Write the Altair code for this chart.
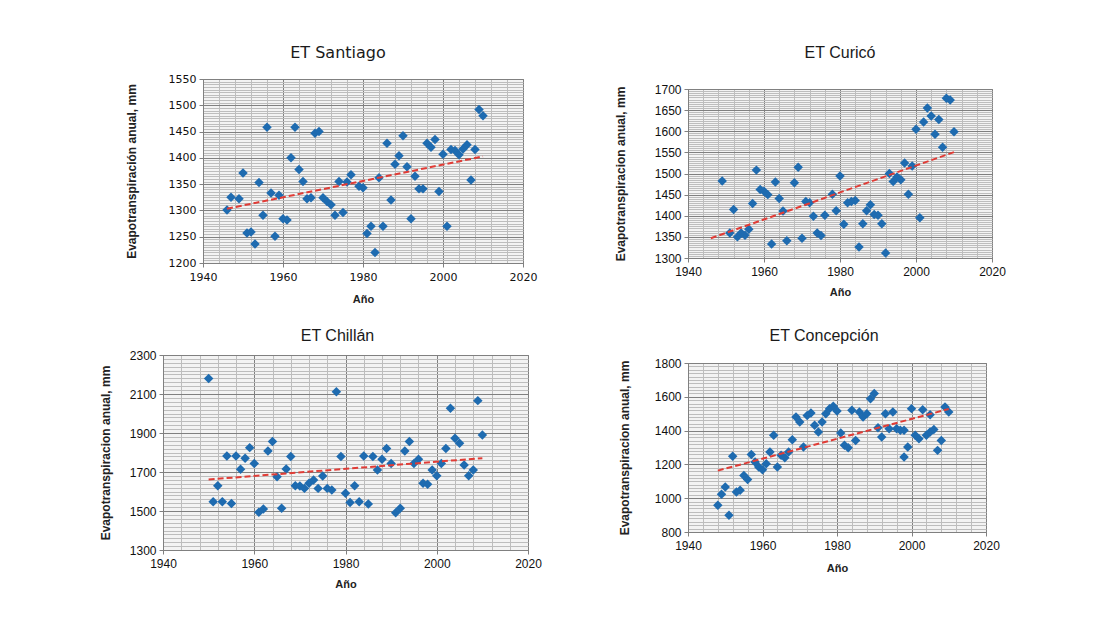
import altair as alt
import pandas as pd

# ---------------- data ----------------
santiago_years = [1946, 1947, 1949, 1950, 1951, 1952, 1953, 1954, 1955, 1956, 1957, 1958, 1959, 1960,
                  1961, 1962, 1963, 1964, 1965, 1966, 1967, 1968, 1969, 1970, 1971, 1972, 1973, 1974,
                  1975, 1976, 1977, 1979, 1980, 1981, 1982, 1983, 1984, 1985, 1986, 1987, 1988, 1989,
                  1990, 1991, 1992, 1993, 1994, 1995, 1996, 1997, 1998, 1999, 2000, 2001, 2002, 2003,
                  2004, 2005, 2006, 2007, 2008, 2009, 2010]
santiago_et = [1301, 1325, 1322, 1371, 1257, 1259, 1236, 1353, 1291, 1458, 1333, 1251, 1329, 1284,
               1282, 1400, 1458, 1378, 1355, 1322, 1324, 1447, 1450, 1324, 1317, 1311, 1291, 1355,
               1296, 1354, 1368, 1346, 1343, 1256, 1270, 1220, 1362, 1270, 1428, 1320, 1388, 1404,
               1442, 1383, 1284, 1365, 1341, 1341, 1428, 1420, 1435, 1336, 1407, 1270, 1416, 1414,
               1406, 1417, 1425, 1358, 1416, 1492, 1480]

curico_years = [1949, 1951, 1952, 1953, 1954, 1955, 1956, 1957, 1958, 1959, 1960, 1961, 1962, 1963,
                1964, 1965, 1966, 1968, 1969, 1970, 1971, 1972, 1973, 1974, 1975, 1976, 1978, 1979,
                1980, 1981, 1982, 1983, 1984, 1985, 1986, 1987, 1988, 1989, 1990, 1991, 1992, 1993,
                1994, 1995, 1996, 1997, 1998, 1999, 2000, 2001, 2002, 2003, 2004, 2005, 2006, 2007,
                2008, 2009, 2010]
curico_et = [1482, 1359, 1415, 1350, 1359, 1354, 1368, 1429, 1508, 1462, 1458, 1450, 1333, 1480,
             1441, 1411, 1341, 1478, 1515, 1347, 1434, 1431, 1399, 1359, 1353, 1401, 1451, 1412,
             1494, 1380, 1431, 1434, 1436, 1326, 1381, 1412, 1426, 1403, 1401, 1381, 1312, 1500,
             1481, 1492, 1485, 1525, 1451, 1518, 1605, 1395, 1622, 1655, 1636, 1593, 1628, 1562,
             1678, 1674, 1599]

chillan_years = list(range(1950, 2011))
chillan_et = [2180, 1548, 1630, 1548, 1782, 1539, 1782, 1714, 1770, 1825,
              1744, 1493, 1510, 1808, 1856, 1676, 1514, 1715, 1779, 1630,
              1628, 1616, 1642, 1659, 1616, 1679, 1616, 1608, 2112, 1779,
              1591, 1543, 1630, 1548, 1782, 1536, 1779, 1710, 1765, 1821,
              1744, 1491, 1514, 1808, 1856, 1744, 1765, 1642, 1637, 1710,
              1681, 1744, 1821, 2027, 1873, 1847, 1736, 1681, 1710, 2066,
              1890]

concepcion_years = list(range(1948, 1999)) + [1998, 1999, 2000, 2001, 2002, 2003, 2004,
                                               2005, 2005, 2006, 2007, 2008, 2009, 2010]
concepcion_et = [958, 1023, 1066, 899, 1248, 1037, 1047, 1135, 1110, 1258,
                 1214, 1185, 1169, 1204, 1273, 1372, 1185, 1254, 1240, 1273,
                 1346, 1480, 1451, 1303, 1490, 1504, 1431, 1392, 1451, 1500,
                 1530, 1544, 1516, 1386, 1313, 1299, 1520, 1342, 1510, 1480,
                 1500, 1589, 1619, 1417, 1362, 1500, 1411, 1510, 1411, 1402,
                 1244, 1402, 1303, 1530, 1372, 1352, 1524, 1372, 1494, 1392,
                 1406, 1283, 1342, 1540, 1510]

x_ticks = list(range(1940, 2021, 4))

# ---------------- styles ----------------
FONT = "Liberation Sans"
NARROW = "Liberation Sans Narrow, Liberation Sans"
POINT_COLOR = "#1e6bb0"
TREND_COLOR = "#e03c36"
MAJOR_GRID = "#808080"
MINOR_GRID = "#bdbdbd"
PLOT_FILL = "#f3f3f3"


def panel(years, values, title, ytitle, ydom, ymajor, yminor, width, height, trend_extent,
          title_offset, title_dx, ytitle_pad, xtitle_pad, title_font, label_font, label_size):
    df = pd.DataFrame({"Año": years, "ET": values})
    y_ticks = list(range(ydom[0], ydom[1] + 1, yminor))
    ytest = f"(datum.value - {ydom[0]}) % {ymajor} === 0"
    xtest = "datum.value % 20 === 0"
    xaxis = alt.Axis(
        title="Año", values=x_ticks, format="d",
        labelExpr=f"{xtest} ? datum.label : ''",
        labelFont=label_font, labelFontSize=label_size, labelColor="#111", labelPadding=4,
        labelOverlap=False, labelFlush=False,
        titleFont=FONT, titleFontSize=11, titleFontWeight="bold", titleColor="#222",
        titlePadding=xtitle_pad,
        grid=True,
        gridColor={"condition": {"test": xtest, "value": MAJOR_GRID}, "value": MINOR_GRID},
        gridWidth=1,
        domainColor=MAJOR_GRID,
        tickColor=MAJOR_GRID, tickSize=4,
        tickOpacity={"condition": {"test": xtest, "value": 1}, "value": 0},
    )
    yaxis = alt.Axis(
        title=ytitle, values=y_ticks, format="d",
        labelExpr=f"{ytest} ? datum.label : ''",
        labelFont=label_font, labelFontSize=label_size, labelColor="#111", labelPadding=3,
        labelOverlap=False,
        titleFont=FONT, titleFontSize=12, titleFontWeight="bold", titleColor="#222",
        titlePadding=ytitle_pad,
        grid=True,
        gridColor={"condition": {"test": ytest, "value": MAJOR_GRID}, "value": MINOR_GRID},
        gridWidth=1,
        domainColor=MAJOR_GRID,
        tickColor=MAJOR_GRID, tickSize=4,
        tickOpacity={"condition": {"test": ytest, "value": 1}, "value": 0},
    )
    xenc = alt.X("Año:Q", scale=alt.Scale(domain=[1940, 2020], nice=False, zero=False), axis=xaxis)
    yenc = alt.Y("ET:Q", scale=alt.Scale(domain=ydom, nice=False, zero=False), axis=yaxis)
    base = alt.Chart(df)
    pts = base.mark_point(shape="diamond", filled=True, size=90, color=POINT_COLOR,
                          opacity=1).encode(x=xenc, y=yenc)
    trend = base.transform_regression("Año", "ET", extent=trend_extent).mark_line(
        color=TREND_COLOR, strokeDash=[6, 3], strokeWidth=2).encode(x=xenc, y=yenc)
    return alt.layer(pts, trend).properties(
        width=width, height=height,
        view=alt.ViewBackground(fill=PLOT_FILL, stroke=MAJOR_GRID, strokeWidth=1),
        title=alt.TitleParams(text=title, font=title_font, fontSize=16, fontWeight="normal",
                              color="#1a1a1a", offset=title_offset, dx=title_dx, anchor="middle"),
    )


def spacer(w, h):
    return alt.Chart(pd.DataFrame({"v": [0]})).mark_point(opacity=0).encode(
        x=alt.value(0), y=alt.value(0)
    ).properties(width=w, height=h, view=alt.ViewBackground(strokeOpacity=0, fillOpacity=0))


def block(p):
    # a 1px spacer above each panel so the panel's top (title) is what lines up in a row
    return alt.concat(spacer(1, 1), p, columns=1, spacing=0)


santiago = panel(santiago_years, santiago_et, "ET Santiago", "Evapotranspiración anual, mm",
                 [1200, 1550], 50, 5, 320, 184, [1946, 2010], 12, -25, 30, 11,
                 "DejaVu Sans", "DejaVu Sans", 11)
curico = panel(curico_years, curico_et, "ET Curicó", "Evapotranspiracion anual, mm",
               [1300, 1700], 50, 5, 304, 169, [1946, 2010], 22, 0, 27, 9,
               NARROW, FONT, 12)
chillan = panel(chillan_years, chillan_et, "ET Chillán", "Evapotranspiracion anual, mm",
                [1300, 2300], 200, 20, 365, 195, [1950, 2010], 5, -8, 17, 9,
                NARROW, FONT, 12)
concepcion = panel(concepcion_years, concepcion_et, "ET Concepción", "Evapotranspiracion anual, mm",
                   [800, 1800], 200, 20, 298, 169, [1948, 2010], 13, -13, 23, 11,
                   NARROW, FONT, 12)

row1 = alt.concat(spacer(41, 1), block(santiago), block(curico), columns=3, spacing=75)
row2 = alt.concat(spacer(15, 1), block(chillan), block(concepcion), columns=3, spacing=75)

chart = alt.concat(row1, row2, columns=1, spacing=16).properties(
    padding={"left": 5, "top": 38, "right": 5, "bottom": 5},
    background="white",
).configure_view(stroke=MAJOR_GRID, strokeWidth=1)

chart.save("out.html", embed_options={"renderer": "svg", "actions": False})
